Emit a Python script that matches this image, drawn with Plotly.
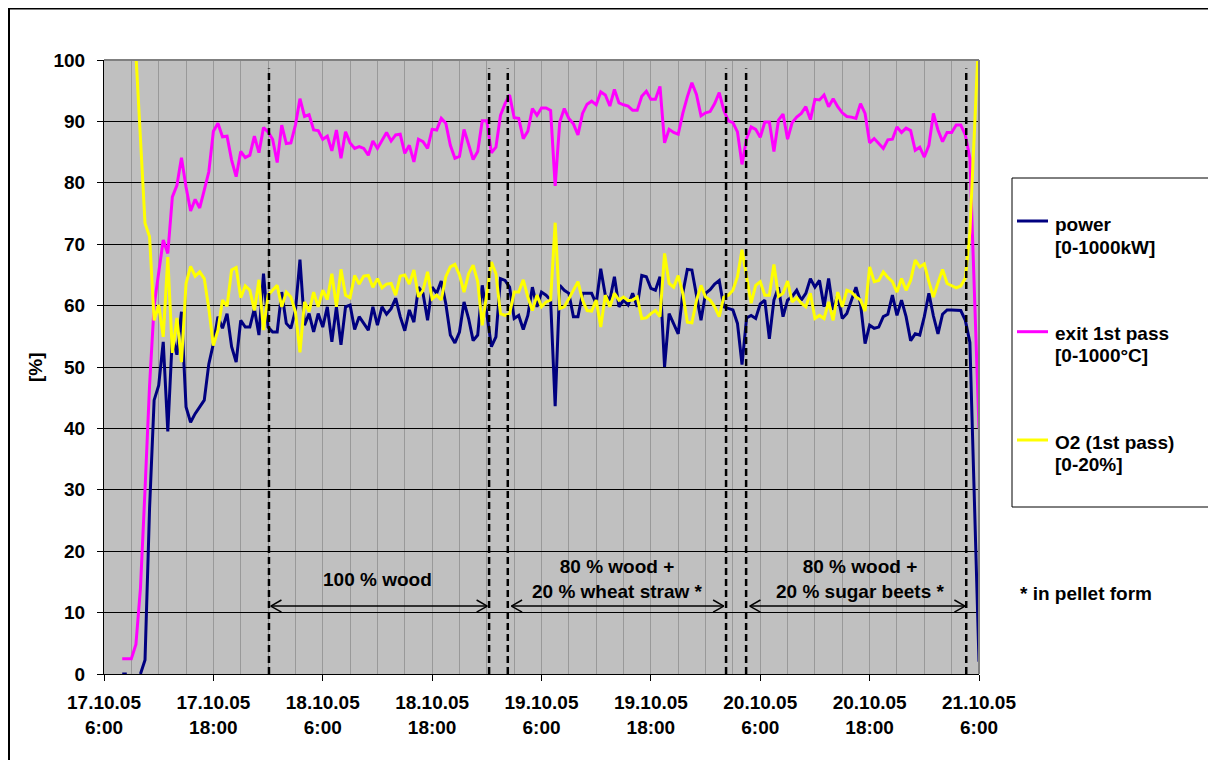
import plotly.graph_objects as go

# ---------------- data ----------------
# samples every 30 min, hours after 17.10.05 6:00
time_h = [2 + 0.5 * i for i in range(189)]

power = [
    0, 0, None, None, 0, 2.3, 27, 44.6, 47, 54.1,
    39.5, 55, 52, 59, 43.5, 41, 42.4, 43.5, 44.6, 50.5,
    53.8, 58.2, 56.3, 58.7, 53.3, 50.8, 57.6, 56.5, 56.5, 59.5,
    55.2, 65.2, 56.5, 55.7, 55.7, 62.2, 57.1, 56.3, 59.2, 67.5,
    56.8, 58.7, 55.7, 58.7, 56.5, 59.8, 54.1, 59.8, 53.6, 59.8,
    60.1, 56.1, 58.2, 57.1, 56.0, 59.8, 56.8, 59.8, 58.6, 59.5,
    61.2, 58.2, 55.9, 59.3, 57.3, 63.0, 62.0, 57.6, 63.0, 62.0,
    64.0, 60.3, 55.2, 53.9, 55.7, 60.6, 57.9, 54.3, 55.2, 63.3,
    58.7, 53.3, 54.9, 64.4, 64.1, 63.0, 57.9, 58.4, 56.1, 58.4,
    63.0, 59.8, 62.2, 61.7, 60.9, 43.6, 63.3, 62.5, 62.0, 58.2,
    58.2, 62.0, 62.0, 62.0, 60.3, 66.0, 61.7, 60.9, 64.7, 59.8,
    60.9, 60.1, 62.0, 59.8, 64.9, 64.7, 62.8, 62.5, 64.7, 50.0,
    58.7, 57.1, 55.4, 62.0, 65.9, 65.8, 62.0, 57.6, 62.0, 62.6,
    63.5, 64.1, 59.8, 59.5, 59.3, 57.1, 50.4, 58.0, 58.4, 57.9,
    60.3, 60.9, 54.6, 60.9, 63.0, 58.2, 60.9, 61.5, 62.5, 60.9,
    62.0, 64.4, 63.0, 64.1, 59.8, 64.4, 59.3, 61.7, 57.9, 58.7,
    60.9, 63.0, 60.3, 53.8, 56.8, 56.3, 56.5, 58.2, 58.6, 61.7,
    58.4, 60.9, 58.2, 54.3, 55.4, 55.2, 58.2, 62.0, 58.3, 55.4,
    58.6, 59.3, 59.3, 59.3, 59.2, 57.6, 54, 28, 2,
]

exit_1st_pass = [
    2.5, 2.5, 2.5, 4.8, 14, 30, 47, 60, 65.5, 70.7,
    68.5, 77.7, 79.6, 84.1, 79.3, 75.4, 77.3, 75.9, 78.8, 81.8,
    88.4, 89.7, 87.5, 87.6, 83.7, 81.0, 85.1, 84.1, 84.5, 87.6,
    84.9, 89.0, 88.3, 87.1, 83.3, 89.4, 86.4, 86.5, 89.4, 93.7,
    90.8, 91.1, 88.6, 88.5, 87.1, 87.6, 85.2, 88.6, 84.0, 88.3,
    86.5, 85.6, 85.9, 85.6, 84.5, 86.8, 85.6, 87.0, 88.2, 86.8,
    87.8, 87.9, 84.8, 86.1, 83.4, 87.1, 86.7, 85.6, 88.7, 88.6,
    90.5, 89.7, 86.1, 84.0, 84.3, 88.7, 86.4, 83.8, 85.1, 90.1,
    90.1, 84.9, 85.8, 91.0, 92.9, 94.3, 90.6, 90.5, 87.2, 88.4,
    92.1, 91.0, 92.2, 92.2, 91.8, 79.5, 89.9, 92.1, 90.5, 89.6,
    87.8, 91.3, 92.8, 93.3, 92.7, 94.8, 94.3, 92.5, 95.2, 93.0,
    92.7, 92.5, 91.8, 91.8, 94.1, 94.9, 93.6, 93.6, 95.7, 86.5,
    88.7, 88.2, 87.9, 91.3, 94.0, 96.3, 94.4, 90.9, 91.4, 91.6,
    92.9, 94.7, 91.8, 90.1, 89.8, 88.3, 83.0, 87.2, 89.1, 88.7,
    87.4, 89.9, 89.9, 85.1, 90.2, 91.2, 87.1, 89.8, 90.7, 91.3,
    92.4, 90.3, 93.6, 93.5, 94.3, 92.4, 93.7, 92.4, 91.4, 90.8,
    90.7, 90.5, 92.9, 91.3, 86.5, 87.2, 86.4, 85.6, 87.0, 87.1,
    89.1, 88.2, 88.9, 88.5, 85.3, 85.8, 84.2, 86.1, 91.3, 88.6,
    86.7, 88.2, 88.2, 89.4, 89.4, 87.8, 84, 62, 40,
]

o2_1st_pass = [
    None, None, None, 101, 86.5, 73.4, 71.2, 57.6, 60.1, 54.9,
    67.9, 52.3, 58.0, 50.8, 63.6, 66.4, 64.8, 65.5, 64.4, 59.5,
    53.5, 56.0, 60.9, 59.9, 65.8, 66.2, 61.3, 63.2, 62.5, 59.2,
    64.2, 56.0, 61.7, 62.5, 63.3, 59.8, 62.2, 61.4, 59.0, 52.4,
    60.6, 59.0, 62.2, 59.8, 62.5, 61.0, 65.2, 59.8, 65.9, 61.7,
    61.3, 64.9, 63.5, 64.8, 64.9, 63.0, 64.4, 62.9, 63.5, 63.6,
    61.7, 64.8, 65.0, 63.5, 65.8, 61.4, 62.5, 65.5, 61.1, 61.7,
    60.9, 64.7, 66.3, 66.7, 65.0, 62.2, 65.2, 66.6, 63.9, 56.8,
    62.0, 67.1, 65.2, 58.7, 58.4, 58.7, 62.2, 62.2, 64.2, 61.4,
    59.2, 61.7, 59.8, 60.6, 60.9, 73.5, 59.5, 59.8, 61.1, 62.5,
    63.9, 60.9, 59.2, 59.1, 60.9, 56.5, 61.7, 59.8, 62.0, 60.9,
    61.4, 60.8, 60.9, 61.4, 57.9, 58.0, 58.7, 59.2, 58.2, 68.5,
    63.6, 63.0, 64.9, 62.0, 57.3, 57.2, 60.8, 63.3, 61.4, 60.9,
    59.8, 58.2, 61.4, 61.7, 62.5, 64.7, 69.1, 64.7, 60.4, 63.3,
    63.9, 61.7, 61.7, 66.7, 61.5, 62.0, 64.0, 60.6, 61.3, 60.4,
    59.8, 62.0, 57.9, 58.4, 57.9, 60.6, 57.6, 62.2, 59.8, 62.5,
    62.2, 61.4, 60.9, 59.1, 66.3, 63.9, 64.1, 65.5, 64.6, 63.9,
    62.2, 64.4, 62.5, 64.1, 67.4, 66.3, 66.8, 63.9, 61.4, 63.7,
    65.9, 63.6, 63.3, 62.9, 63.2, 64.5, 72, 89, 105,
]

series_names = ["power<br>[0-1000kW]", "exit 1st pass<br>[0-1000°C]", "O2 (1st pass)<br>[0-20%]"]

tick_hours = [0, 12, 24, 36, 48, 60, 72, 84, 96]
tick_labels = [
    "17.10.05<br>6:00", "17.10.05<br>18:00", "18.10.05<br>6:00", "18.10.05<br>18:00",
    "19.10.05<br>6:00", "19.10.05<br>18:00", "20.10.05<br>6:00", "20.10.05<br>18:00",
    "21.10.05<br>6:00",
]

# fuel changes (hours) and the fuel phases
change_hours = [18.1, 42.25, 44.3, 68.25, 70.45, 94.6]
phase_start = [18.3, 44.7, 70.85]
phase_end = [42.05, 68.0, 94.47]
phase_labels = ["100 % wood", "80 % wood +<br>20 % wheat straw *", "80 % wood +<br>20 % sugar beets *"]
phase_label_x = [30.0, 56.3, 83.0]

# ---------------- figure ----------------
FONT = "Liberation Sans, Arial, sans-serif"
colors = ["#000080", "#FF00FF", "#FFFF00"]
values = [power, exit_1st_pass, o2_1st_pass]

fig = go.Figure()
for name, vals, col in zip(series_names, values, colors):
    fig.add_trace(go.Scatter(
        x=time_h, y=vals, mode="lines", name=name.replace("<br>", " "),
        line=dict(color=col, width=3), connectgaps=False, showlegend=False,
    ))

# the page has an 8px body margin: the figure sits at page (8, 8)
OFF = 8
W, H = 1208, 752
PL, PR, PT, PB = 104, 979, 60, 674          # plot area in page pixels
L, T = PL - OFF, PT - OFF
R = W - (PR - OFF)
B = H - (PB - OFF)
pw, ph = PR - PL, PB - PT


def px(x):
    return (x - PL) / pw


def py(y):
    return (PB - y) / ph


shapes = []
# phase change dashed lines
for t in change_hours:
    shapes.append(dict(type="line", xref="x", yref="y", x0=t, x1=t, y0=0, y1=98.6,
                       line=dict(color="black", width=2.5, dash="7px,4px"), layer="above"))

# double-headed arrows
arrow_y = 11.07
head_dx, head_dy = 1.17, 0.98
for a, b in zip(phase_start, phase_end):
    shapes.append(dict(type="line", xref="x", yref="y", x0=a, x1=b, y0=arrow_y, y1=arrow_y,
                       line=dict(color="black", width=1.5)))
    for sgn in (1, -1):
        shapes.append(dict(type="line", xref="x", yref="y", x0=a, x1=a + head_dx,
                           y0=arrow_y, y1=arrow_y + sgn * head_dy, line=dict(color="black", width=1.5)))
        shapes.append(dict(type="line", xref="x", yref="y", x0=b, x1=b - head_dx,
                           y0=arrow_y, y1=arrow_y + sgn * head_dy, line=dict(color="black", width=1.5)))

# plot area border (top and right, grey)
shapes.append(dict(type="line", xref="paper", yref="paper", x0=0, x1=1, y0=1, y1=1,
                   line=dict(color="#808080", width=2), layer="above"))
shapes.append(dict(type="line", xref="paper", yref="paper", x0=1, x1=1, y0=0, y1=1,
                   line=dict(color="#808080", width=2), layer="above"))

# chart outer border (right / bottom edges fall outside the picture)
shapes.append(dict(type="rect", xref="paper", yref="paper", x0=px(9), x1=px(1240), y0=py(790), y1=py(8.6),
                   line=dict(color="black", width=2), fillcolor="rgba(0,0,0,0)"))

# legend box
shapes.append(dict(type="rect", xref="paper", yref="paper", x0=px(1012), x1=px(1209), y0=py(507), y1=py(178),
                   line=dict(color="black", width=1), fillcolor="white"))

legend_line_y = [221, 331.7, 440]
legend_text_y = [(224, 247), (333, 355), (442, 464)]
annotations = []
for name, col, ly, (ty1, ty2) in zip(series_names, colors, legend_line_y, legend_text_y):
    shapes.append(dict(type="line", xref="paper", yref="paper", x0=px(1017), x1=px(1048),
                       y0=py(ly), y1=py(ly), line=dict(color=col, width=3)))
    l1, l2 = name.split("<br>")
    for txt, ty in ((l1, ty1), (l2, ty2)):
        annotations.append(dict(xref="paper", yref="paper", x=px(1053), y=py(ty), text=txt,
                                showarrow=False, xanchor="left", yanchor="middle",
                                font=dict(family=FONT, size=19, color="black", weight="bold")))

annotations.append(dict(xref="paper", yref="paper", x=px(1018), y=py(593), text="* in pellet form",
                        showarrow=False, xanchor="left", yanchor="middle",
                        font=dict(family=FONT, size=19, color="black", weight="bold")))

for lab, lx in zip(phase_labels, phase_label_x):
    annotations.append(dict(xref="x", yref="y", x=lx, y=15.4, text=lab, showarrow=False,
                            xanchor="center", yanchor="middle", align="center",
                            font=dict(family=FONT, size=19, color="black", weight="bold")))

annotations.append(dict(xref="paper", yref="paper", x=px(35), y=0.5, text="[%]", textangle=-90,
                        showarrow=False, xanchor="center", yanchor="middle",
                        font=dict(family=FONT, size=19, color="black", weight="bold")))

fig.update_layout(
    width=W, height=H,
    margin=dict(l=L, r=R, t=T, b=B, autoexpand=False),
    paper_bgcolor="white", plot_bgcolor="#C0C0C0",
    font=dict(family=FONT, size=19, color="black"),
    shapes=shapes, annotations=annotations, showlegend=False,
    xaxis=dict(
        range=[0, 96], tickmode="array", tickvals=tick_hours, ticktext=tick_labels,
        tickfont=dict(family=FONT, size=19, color="black", weight="bold"),
        ticks="outside", ticklen=6, tickcolor="black", tickwidth=1,
        showline=True, linecolor="black", linewidth=1,
        showgrid=True, gridcolor="#999999", gridwidth=1, zeroline=False,
        minor=dict(dtick=3, tick0=0, showgrid=True, gridcolor="#999999", gridwidth=1, ticks=""),
        ticklabelstandoff=5,
    ),
    yaxis=dict(
        range=[0, 100], dtick=10, tick0=0,
        tickfont=dict(family=FONT, size=19, color="black", weight="bold"),
        ticks="outside", ticklen=6, tickcolor="black", tickwidth=1,
        showline=True, linecolor="black", linewidth=1,
        showgrid=True, gridcolor="black", gridwidth=1, zeroline=False,
        ticklabelstandoff=8,
    ),
)

fig.write_html("out.html")
